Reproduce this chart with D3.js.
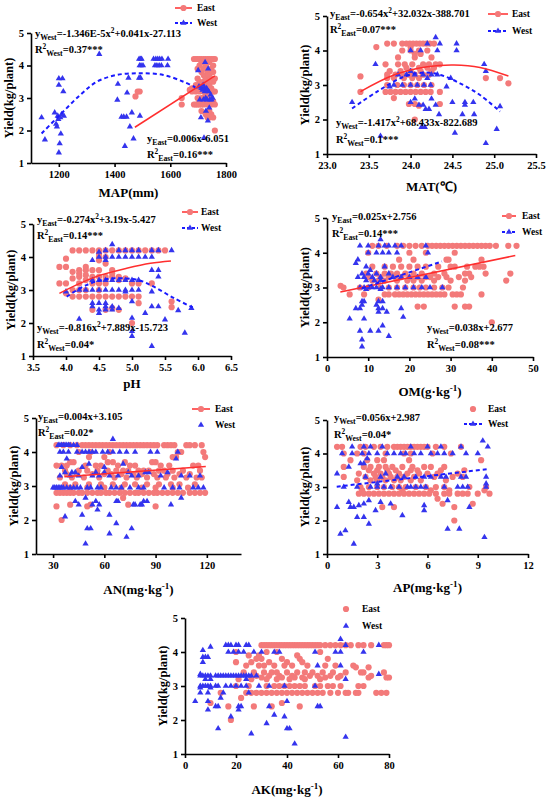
<!DOCTYPE html>
<html><head><meta charset="utf-8">
<script src="https://cdn.jsdelivr.net/npm/d3@7"></script>
<style>
body{margin:0;background:#fff}
.tick text{font-family:'Liberation Serif','Times New Roman',serif;font-weight:bold;font-size:10.5px;fill:#000}
</style>
</head><body>
<svg id="c" width="550" height="801"></svg>
<script>
// ---------------- DATA ----------------
const yTicks = [1,2,3,4,5];
// MAP (mm)
const mapTicks = [1200,1400,1600,1800];
const mapEastCols = [
 [1475,[3.05]],[1483,[3.2]],[1490,[3.2]],[1641,[3.0,2.8]],[1670,[3.25]],[1678,[3.3,3.2]],[1685,[4.2,3.3,2.8]],
 [1692,[4.2,3.4,3.3,3.2,2.8]],[1698,[4.2,3.9,3.6,3.3,3.0,2.8]],[1705,[4.2,4.0,3.5,3.3,3.2,2.9,2.8]],
 [1712,[4.2,4.1,3.8,3.4,3.0,2.8,2.6]],[1720,[4.2,3.9,3.7,3.5,3.2,3.0,2.8]],[1727,[4.2,4.0,3.6,3.4,3.1,2.9,2.5]],
 [1734,[4.2,3.8,3.5,3.3,3.0,2.8,2.4]],[1740,[4.2,4.1,3.7,3.4,3.2,2.9,2.6,2.4]],[1747,[4.2,3.9,3.6,3.3,3.0,2.8,2.5]],
 [1754,[4.2,4.0,3.8,3.5,3.2,2.9,2.4]],[1760,[4.2,3.6,3.2,2.8,2.0]]
];
const mapWest = [
 [1138,2.4],[1150,1.72],[1185,2.55],[1190,2.2],[1193,2.12],[1196,2.45],[1198,2.35],[1200,3.6],[1200,3.4],[1200,1.32],
 [1203,1.6],[1205,2.4],[1207,1.9],[1210,2.5],[1213,3.6],[1216,3.2],[1218,2.45],[1345,4.35],[1410,2.94],[1412,3.43],
 [1425,2.42],[1433,2.42],[1437,1.52],[1443,2.42],[1445,3.16],[1450,3.62],[1455,2.12],[1462,2.55],[1468,1.75],
 [1488,3.62],[1493,3.62],[1491,2.45],[1488,4.2],[1493,4.2],[1497,4.2],[1490,4.0],[1495,4.0],[1502,4.0],
 [1540,4.2],[1548,4.2],[1555,4.2],[1562,4.2],[1570,4.2],[1545,4.0],[1552,4.0],[1560,4.0],[1568,4.0],[1592,4.2],[1590,4.0],
 [1700,3.85],[1703,3.35],[1706,2.95],[1710,2.4],[1712,3.3],[1716,3.25],[1719,2.95],[1721,1.77],[1722,3.3],[1725,4.1],
 [1727,3.0],[1728,2.6],[1730,3.3],[1732,2.95],[1735,2.3],[1736,3.9],[1738,3.2],[1740,2.7],[1742,2.95],[1745,3.1],
 [1748,2.95],[1752,3.0],[1718,3.4],[1724,3.2],[1733,3.25]
];
const mapEastFit = [[1473,2.1],[1760,3.68]];
const mapWestFit = [[1138,1.91],[1204,2.48],[1276,3.09],[1336,3.5],[1408,3.71],[1491,3.76],[1575,3.71],[1647,3.5],[1690,3.33]];

// MAT (°C)
const matTicks = [23.0,23.5,24.0,24.5,25.0,25.5];
const matEastRows = [
 [4.2,[23.72,23.8,23.9,23.95,23.99,24.03,24.07,24.11,24.15,24.19,24.23,24.28]],[4.1,[23.59,24.0]],
 [4.0,[23.9,24.0,24.1,24.2]],[3.9,[24.05,24.12]],[3.8,[23.85,24.05,24.25]],
 [3.6,[23.7,23.85,23.93,24.02,24.15,24.22,24.3,24.35]],[3.5,[23.95,24.1,24.2,24.28]],
 [3.4,[23.75,23.88,24.0,24.12,24.25]],[3.3,[23.72,23.82,23.9,23.98,24.05,24.15,24.22]],[3.25,[23.4]],
 [3.2,[23.72,23.8,23.92,24.02,24.1,24.9,25.07]],[3.05,[25.17]],[3.0,[23.72,23.84,23.92,24.0,24.08,24.16,24.25]],
 [2.8,[23.4,23.7,23.76,23.82,23.88,23.94,24.0,24.06,24.12,24.18,24.24,24.35]],[2.62,[23.8]],
 [2.45,[23.98,24.05,24.35]],[2.4,[24.1]],[2.0,[24.05]]
];
const matWestRows = [
 [4.38,[24.3]],[4.2,[24.2,24.35,24.55]],[4.0,[24.0,24.12,24.32,24.55]],[3.6,[23.58,24.88]],[3.4,[24.0,24.9]],
 [3.3,[23.85,23.95,24.05,24.15,24.25,24.32]],[3.2,[24.2,24.48]],[3.0,[23.8,23.9,24.0,24.08,24.16,24.24]],
 [2.95,[23.75,24.43]],[2.6,[24.05,24.25]],[2.5,[23.3,24.0,24.5,24.65,24.75]],[2.42,[24.1,24.15,24.3,24.65]],
 [2.38,[25.07]],[2.3,[24.18,24.22]],[2.15,[24.34,24.62,24.76]],[1.78,[24.13,24.17]],[1.72,[25.03]],
 [1.61,[24.53]],[1.52,[23.64]],[1.31,[24.9]]
];
const matEastFit = [[23.4,2.81],[23.8,3.29],[24.2,3.53],[24.52,3.58],[24.83,3.51],[25.17,3.26]];
const matWestFit = [[23.3,2.32],[23.6,2.81],[23.92,3.24],[24.16,3.36],[24.36,3.29],[24.59,3.05],[24.83,2.71],[25.07,2.23]];

// pH
const phTicks = [3.5,4.0,4.5,5.0,5.5,6.0,6.5];
const phEastCols = [
 [3.9,[3.7,3.2]],[4.0,[3.95,3.7,3.2,2.9]],[4.1,[4.2,3.55,3.35,3.0,2.8]],[4.2,[4.2,3.6,3.5,3.4,3.2,3.0,2.8]],
 [4.3,[4.2,3.7,3.6,3.45,3.3,3.0,2.8]],[4.4,[4.2,3.6,3.4,3.3,3.2,2.8,2.4]],[4.5,[4.2,4.1,4.0,3.9,3.6,3.4,3.2,3.0,2.8]],
 [4.6,[4.2,4.0,3.8,3.4,3.3,3.2,2.8,2.4]],[4.7,[4.2,3.6,3.5,3.4,2.8,2.45]],[4.8,[4.2,3.4,3.3,2.8,2.4]],
 [4.9,[4.2,3.35,2.8]],[5.0,[4.2,3.2,2.8,2.0]],[5.1,[4.2,3.2,2.8,2.6]],[5.2,[4.2]],[5.3,[4.2,3.2]],
 [5.4,[4.2]],[5.5,[4.2]],[5.6,[2.65,2.48]]
];
const phWestCols = [
 [4.0,[2.95]],[4.2,[2.12,3.0]],[4.3,[3.0]],[4.4,[3.9,3.3,3.0,2.6,2.5]],[4.5,[4.15,4.0,3.3,3.0,2.6,2.4,2.3]],
 [4.6,[4.2,4.0,3.9,3.3,3.0,2.6,2.5,2.4]],[4.7,[4.38,4.0,3.3,3.0,2.5,2.4]],[4.8,[4.2,4.0,3.3,3.0,2.45]],
 [4.9,[4.2,4.0,3.3,3.0,2.95]],[5.0,[4.2,4.0,3.3,3.0,2.65,2.15,1.75,1.6]],[5.1,[4.2,4.0,3.3,3.0]],
 [5.2,[4.0,2.3]],[5.3,[4.2,4.0,3.6,2.95,2.5,1.3]],[5.4,[4.2,3.6,3.4,2.5]],[5.5,[2.1]],[5.6,[4.2]],
 [5.7,[2.38]],[5.8,[1.7]],[5.9,[2.45]]
];
const phEastFit = [[3.9,2.9],[4.21,3.2],[4.52,3.45],[4.92,3.66],[5.28,3.81],[5.59,3.88]];
const phWestFit = [[4.01,2.8],[4.31,3.15],[4.62,3.33],[4.92,3.35],[5.13,3.28],[5.33,3.1],[5.64,2.75],[5.92,2.47]];

// OM (g·kg-1)
const omTicks = [0,10,20,30,40,50];
const omEastRows = [
 [4.2,[11,12.5,14.5,17,18.5,20,21.5,23,24.5,25.5,26.5,27.5,28.5,29.5,30.5,31.5,32.5,33.5,34.5,35.5,36.5,37.5,38.5,39.5,41,44,46]],
 [4.0,[10,20,24,31]],[3.8,[17.5,21,29,29.5,37.5]],
 [3.6,[11,14,16,18,20,22,24,27,30,31,34,36,37,38]],
 [3.4,[9.5,12,14,15.5,17,19,21,23,26,28.5,33.5,34.5,38.5,44.5]],
 [3.3,[10,13,15,16.5,18,20,22,24,25,27,29,32,35]],
 [3.2,[11,12.5,14,17,19.5,21,23,26,30,33.5,43.5]],
 [3.05,[3.3]],
 [3.0,[4,8,10,13,15,17,19,21,22.5,24,26,28,29.5,33]],
 [2.8,[5.5,9,14,15,16.5,17.5,18.5,19.5,20.5,21.5,22.5,23.5,24.5,25.5,26.5,27.5,28.5,30.5,31.5,32.5,37.5]],
 [2.65,[12.5]],[2.45,[22,23.5,31,33.5,34.5]],[2.0,[40]]
];
const omWestRows = [
 [4.38,[13]],[4.2,[8,10,12.5,14,15,16.5,18,24]],[4.0,[10,12,13.5,15,17,24.5]],[3.8,[7.5]],[3.7,[7]],
 [3.6,[9.5,14]],[3.5,[10.5]],[3.4,[8.5,10,12,15]],[3.3,[7.5,9,11,13,16,18,20,22,24]],[3.2,[9.5,11.5,13]],
 [3.0,[8,9,10,11,12,13.5,15,17,19,21,23,25,28]],[2.95,[9.5,13]],[2.6,[8.5,9,12.5,13.5]],[2.5,[8.5,12]],
 [2.4,[7,8,12.5,13.5,18]],[2.3,[12.5,14.5]],[2.15,[18.5]],[2.1,[5.5,9]],[1.9,[13.5]],[1.75,[8,10.5,12.5]],
 [1.6,[15]],[1.5,[8.5]],[1.3,[8.5]]
];
const omEastFit = [[3.24,2.87],[45.7,3.92]];
const omWestFit = [[8.5,2.98],[27.9,3.75]];

// AN (mg·kg-1)
const anTicks = [30,60,90,120];
const anEastRows = [
 [4.2,[32,36,40,44,47,49,51,53,55,57,59,61,63,65,67,69,71,73,75,77,79,81,83,85,87,89,91,95,97,99,101,108,110,113,117]],
 [4.0,[45,52,63,103,105,118]],[3.85,[51,60,100,102,119]],[3.7,[40,42,62,65,72,88,90]],
 [3.6,[32,35,38,49,55,58,68,75,78,93,98,112,115]],
 [3.45,[37,45,50,56,62,67,71,74,80,83,86,92,95,100,106,116]],
 [3.35,[38,44,53,60,64,70,77,82,89,97,104,110]],
 [3.25,[34,41,48,57,66,73,79,85,91,96,101,108,114,117]],
 [3.05,[37,43,51,58,65,72,78,85,92,99,104,113]],[2.95,[40,50,60,70,82,90,100,109]],
 [2.8,[32,34,36,38,40,42,45,47,50,53,56,58,61,63,66,69,72,75,78,80,83,86,89,91,94,97,100,103,106,110,113,116,119]],
 [2.65,[71]],[2.45,[40,52,74]],[2.4,[32,50,90]],[2.0,[35]]
];
const anWestRows = [
 [4.38,[65]],[4.2,[33,34,35,36,37,38,39,40,42,44]],
 [4.0,[34,36,39,44,47,49,51,53,55,59,62,65,69,73,78,87,91,103]],[3.8,[38,102]],[3.65,[51,71]],[3.55,[35,47,60]],
 [3.4,[37,41,43,55,60,74,84,86,97]],[3.3,[34,40,45,53,57,63,68,76,80,93,105,110,116]],
 [2.95,[30,31,32,33,34,35,36,38,40,42,44,46,50,52,56,58,64,67,70,75,80,83,95,100,104,112,115,118]],
 [2.65,[49,105]],[2.55,[43,55,67,68,83,85]],[2.45,[45,53,57,77,78,81,82,99]],[2.3,[56]],[2.15,[47,63]],
 [2.1,[37]],[1.9,[67]],[1.75,[50,52,76]],[1.6,[63]],[1.5,[73]],[1.3,[49]]
];
const anEastFit = [[36.6,3.27],[119.4,3.57]];

// AP (mg·kg-1)
const apTicks = [0,3,6,9,12];
const apEastRows = [
 [4.2,[0.6,0.9,2.0,2.3,2.8,3.2,3.6,4.0,4.2,4.4,4.6,4.8,5.0,5.2,5.4,5.6,5.8,6.0,6.5,7.0,8.0]],
 [4.0,[1.0,1.8,2.2,3.5,4.6,5.0,6.3,7.4]],[3.8,[1.4,2.4,3.0,3.4,4.9,9.2]],
 [3.6,[1.0,2.2,2.6,3.1,3.5,3.9,4.5,5.1,5.8,6.2,7.0]],[3.5,[2.5,3.0,3.6,4.1,5.0,5.4,6.8,8.2]],
 [3.4,[1.9,2.8,3.2,3.7,4.3,4.8,5.5,6.0,6.6,7.8]],[3.3,[1.0,2.3,2.9,3.3,3.8,4.2,4.6,5.2,6.4,7.5,8.1]],
 [3.2,[1.8,2.6,3.0,3.5,4.0,4.4,5.0,5.6,7.1]],[3.0,[2.0,2.5,3.0,3.4,3.9,4.3,4.7,5.3,5.9,6.5,7.0,8.5,9.5]],
 [2.9,[2.1,4.5,6.2,7.3,9.4]],
 [2.8,[1.9,2.2,2.5,2.8,3.1,3.4,3.7,4.0,4.3,4.6,4.9,5.2,5.5,5.8,6.1,6.5,7.0,7.3,7.8,8.1,8.4,9.0,9.7]],
 [2.65,[6.6]],[2.5,[6.9,8.7]],[2.4,[3.3,4.0,7.6]],[2.0,[7.6]]
];
const apWestRows = [
 [4.38,[9.3]],[4.2,[1.5,2.2,2.6,3.3,5.0,6.0,6.8,8.0,9.6]],
 [4.0,[0.9,1.5,2.1,2.5,3.0,3.6,4.0,4.4,4.7,5.2,5.6,6.2,6.6,7.0,7.5,8.3,9.0]],[3.85,[2.4]],[3.7,[2.0,2.2]],
 [3.6,[1.3]],[3.4,[0.6,3.5]],[3.3,[2.3,3.2,4.2,4.6,5.3,5.8,6.2,6.8,7.1,8.0,8.3,9.5]],[3.1,[3.0,9.5]],
 [3.0,[1.0,1.8,2.6,3.0,3.4,3.8,4.3,4.8,5.0,5.3,5.6,5.9,7.0,7.8,8.1,8.4,9.5]],[2.6,[2.5,7.2]],[2.55,[1.3,3.2]],
 [2.5,[2.2,3.8]],[2.45,[1.9,5.8]],[2.4,[0.6,1.4,1.6,8.5]],[2.3,[2.9,5.8]],[2.15,[4.5]],[2.1,[1.8,2.2]],
 [1.9,[2.5]],[1.75,[7.2,7.9]],[1.7,[1.1]],[1.6,[0.8]],[1.5,[9.4]],[1.3,[1.6]]
];
const apWestFit = [[0.58,3.01],[9.53,3.53]];

// AK (mg·kg-1)
const akTicks = [0,20,40,60,80];
const akEastRows = [
 [4.2,[30,31,32,33,34,35,36,37,38,39,40,41,42,43,44,45,46,47,48,49,50,51,52,53,55,57,59,61,63,65,68,70,73,78,79,80]],
 [4.0,[20,32,36,53]],[3.9,[25,29,44]],[3.8,[28,30,38,45,56]],[3.7,[20,26,33,40,46]],
 [3.6,[24,29,31,35,39,42,48,55,59,66]],[3.55,[67,72]],
 [3.4,[23,27,31,34,36,40,44,47,50,54,58,63,69,70,78]],[3.3,[28,33,37,42,49,52,57,61,73]],
 [3.25,[30,38,43,46,55,60,72,79,80]],[3.2,[21,26,32,36,41,47,53]],
 [3.0,[20,25,32,35,37,39,41,43,45,47,51,53,56,58,61,68,70]],
 [2.8,[14,24,26,28,30,32,34,36,38,40,42,44,46,48,50,52,54,57,60,63,64,67,68,75,77,79]],
 [2.65,[22]],[2.5,[10,38]],[2.4,[17,27,34,45]],[2.0,[18]]
];
const akWestRows = [
 [4.38,[61]],[4.2,[16,17,18,20,21,24,25,63,76]],[4.15,[10]],[4.05,[7]],
 [4.0,[17,19,21,23,27,30,35,37,51,59,61,70]],[3.85,[7,8,9]],[3.7,[7]],[3.6,[52,61]],[3.35,[6,76]],
 [3.3,[6,7,8,9,10,12,13,14,15,16,17,18,19,20,21,22,23,24,25,26,28]],[3.2,[8,10,24,63]],
 [3.0,[6,7,8,9,10,12,13,16,18,20,22,24,29,33,39,51]],[2.95,[6,10]],[2.8,[6,9,15,25]],[2.65,[14]],
 [2.55,[4,9,40]],[2.4,[12,13,21,22,33,52,53]],[2.3,[9,21]],[2.15,[35]],[2.1,[18,39]],[1.9,[32]],
 [1.75,[13,40,41]],[1.6,[26]],[1.5,[63]],[1.3,[43]]
];

// ---------------- helpers ----------------
const fromRows = rows => rows.flatMap(([y,xs]) => xs.map(x => [x,y]));
const fromCols = cols => cols.flatMap(([x,ys]) => ys.map(y => [x,y]));

const EAST = "#f37a7a", EASTLINE = "#ff2e2e", WEST = "#3434ee", WESTLINE = "#1a1aff";
const FONT = "'Liberation Serif','Times New Roman',serif";

const panels = [
 {L:31,R:226,T:33,B:163, xd:[1100,1800], xt:mapTicks, fmt:d3.format("d"), xl:"MAP(mm)", xly:197,
  east:fromCols(mapEastCols), west:mapWest, ef:mapEastFit, wf:mapWestFit,
  eqs:[[35,37,"y_{West}=-1.346E-5x^{2}+0.041x-27.113"],[35,53,"R^{2}_{West}=0.37***"],
       [147,142,"y_{East}=0.006x-6.051"],[147,158,"R^{2}_{East}=0.16***"]],
  lg:{x1:175,x2:192,y:8,dy:15,tx:197,eL:true,wL:true}},
 {L:327,R:536,T:16,B:154, xd:[23,25.5], xt:matTicks, fmt:d3.format(".1f"), xl:"MAT(℃)", xly:191,
  east:fromRows(matEastRows), west:fromRows(matWestRows), ef:matEastFit, wf:matWestFit,
  eqs:[[330,17,"y_{East}=-0.654x^{2}+32.032x-388.701"],[330,33,"R^{2}_{East}=0.07***"],
       [336,126,"y_{West}=-1.417x^{2}+68.433x-822.689"],[336,143,"R^{2}_{West}=0.1***"]],
  lg:{x1:488,x2:508,y:14,dy:17,tx:512,eL:true,wL:true}},
 {L:33,R:231,T:224,B:356, xd:[3.5,6.5], xt:phTicks, fmt:d3.format(".1f"), xl:"pH", xly:388,
  east:fromCols(phEastCols), west:fromCols(phWestCols), ef:phEastFit, wf:phWestFit,
  eqs:[[37,223,"y_{East}=-0.274x^{2}+3.19x-5.427"],[37,239,"R^{2}_{East}=0.14***"],
       [37,331,"y_{West}=-0.816x^{2}+7.889x-15.723"],[37,348,"R^{2}_{West}=0.04*"]],
  lg:{x1:182,x2:198,y:212,dy:16,tx:201,eL:true,wL:true}},
 {L:327,R:533,T:218,B:357, xd:[0,50], xt:omTicks, fmt:d3.format("d"), xl:"OM(g·kg^{-1})", xly:396,
  east:fromRows(omEastRows), west:fromRows(omWestRows), ef:omEastFit, wf:omWestFit,
  eqs:[[332,220,"y_{East}=0.025x+2.756"],[332,237,"R^{2}_{East}=0.14***"],
       [427,331,"y_{West}=0.038x+2.677"],[427,348,"R^{2}_{West}=0.08***"]],
  lg:{x1:502,x2:516,y:216,dy:16,tx:522,eL:true,wL:true}},
 {L:36,R:241,T:418,B:554, xd:[20,140], xt:anTicks, fmt:d3.format("d"), xl:"AN(mg·kg^{-1})", xly:594,
  east:fromRows(anEastRows), west:fromRows(anWestRows), ef:anEastFit, wf:null,
  eqs:[[38,420,"y_{East}=0.004x+3.105"],[38,436,"R^{2}_{East}=0.02*"]],
  lg:{x1:192,x2:210,y:409,dy:16,tx:215,eL:true,wL:false}},
 {L:327,R:528,T:420,B:554, xd:[0,12], xt:apTicks, fmt:d3.format("d"), xl:"AP(mg·kg^{-1})", xly:592,
  east:fromRows(apEastRows), west:fromRows(apWestRows), ef:null, wf:apWestFit,
  eqs:[[334,421,"y_{West}=0.056x+2.987"],[334,438,"R^{2}_{West}=0.04*"]],
  lg:{x1:464,x2:482,y:409,dy:15,tx:488,eL:false,wL:true}},
 {L:185,R:389,T:618,B:754, xd:[0,80], xt:akTicks, fmt:d3.format("d"), xl:"AK(mg·kg^{-1})", xly:794,
  east:fromRows(akEastRows), west:fromRows(akWestRows), ef:null, wf:null,
  eqs:[],
  lg:{x1:338,x2:354,y:609,dy:17,tx:362,eL:false,wL:false}}
];

const svg = d3.select("#c");

function rich(sel, str, size){
  const parts = str.split(/(_\{[^}]*\}|\^\{[^}]*\})/).filter(s => s.length);
  let cur = 0;
  parts.forEach(p => {
    let t = p, off = 0, fs = size;
    if (p.startsWith("_{")) { t = p.slice(2,-1); off = size*0.25; fs = size*0.74; }
    else if (p.startsWith("^{")) { t = p.slice(2,-1); off = -size*0.38; fs = size*0.7; }
    sel.append("tspan").attr("dy", off-cur).attr("font-size", fs).text(t);
    cur = off;
  });
}

const tri = d3.symbol().type(d3.symbolTriangle).size(17);

panels.forEach(p => {
  const g = svg.append("g");
  const x = d3.scaleLinear().domain(p.xd).range([p.L,p.R]);
  const y = d3.scaleLinear().domain([1,5]).range([p.B,p.T]);

  g.append("g").selectAll("circle").data(p.east).join("circle")
    .attr("cx", d => x(d[0])).attr("cy", d => y(d[1])).attr("r", 3.1).attr("fill", EAST);
  g.append("g").selectAll("path").data(p.west).join("path")
    .attr("d", tri).attr("transform", d => `translate(${x(d[0])},${y(d[1])})`).attr("fill", WEST);

  const line = d3.line().x(d => x(d[0])).y(d => y(d[1])).curve(d3.curveCatmullRom);
  if (p.ef) g.append("path").datum(p.ef).attr("d", line).attr("fill","none")
      .attr("stroke", EASTLINE).attr("stroke-width", 1.5);
  if (p.wf) g.append("path").datum(p.wf).attr("d", line).attr("fill","none")
      .attr("stroke", WESTLINE).attr("stroke-width", 2).attr("stroke-dasharray","4,3");

  const ax = g.append("g").attr("transform", `translate(0,${p.B})`)
    .call(d3.axisBottom(x).tickValues(p.xt).tickFormat(p.fmt).tickSize(4).tickPadding(4).tickSizeOuter(0));
  const ay = g.append("g").attr("transform", `translate(${p.L},0)`)
    .call(d3.axisLeft(y).tickValues(yTicks).tickFormat(d3.format("d")).tickSize(4).tickPadding(3).tickSizeOuter(0));
  [ax, ay].forEach(a => {
    a.attr("font-family", FONT).attr("font-size", 10.5).attr("font-weight","bold");
    a.selectAll("path,line").attr("stroke","#000").attr("stroke-width",1.6);
  });

  const xt = g.append("text").attr("x",(p.L+p.R)/2).attr("y",p.xly).attr("text-anchor","middle")
    .attr("font-family",FONT).attr("font-weight","bold").attr("font-size",13);
  rich(xt, p.xl, 13);
  g.append("text").attr("transform",`translate(${p.L-22},${(p.T+p.B)/2}) rotate(-90)`)
    .attr("text-anchor","middle").attr("dy","0.35em").attr("font-family",FONT).attr("font-weight","bold")
    .attr("font-size",12.5).text("Yield(kg/plant)");

  p.eqs.forEach(([ex,ey,s]) => {
    const t = g.append("text").attr("x",ex).attr("y",ey).attr("font-family",FONT)
      .attr("font-weight","bold").attr("font-size",10.5);
    rich(t, s, 10.5);
  });

  const L = p.lg, cx = (L.x1+L.x2)/2;
  [["East",L.y,true],["West",L.y+L.dy,false]].forEach(([name,ly,isE]) => {
    const hasLine = isE ? L.eL : L.wL;
    if (hasLine) g.append("line").attr("x1",L.x1).attr("x2",L.x2).attr("y1",ly).attr("y2",ly)
      .attr("stroke", isE ? EASTLINE : WESTLINE).attr("stroke-width", isE?1.5:2)
      .attr("stroke-dasharray", isE ? null : "3,2");
    if (isE) g.append("circle").attr("cx",cx).attr("cy",ly).attr("r",3.1).attr("fill",EAST);
    else g.append("path").attr("d",tri).attr("transform",`translate(${cx},${ly})`).attr("fill",WEST);
    g.append("text").attr("x",L.tx).attr("y",ly).attr("dy","0.35em").attr("font-family",FONT)
      .attr("font-weight","bold").attr("font-size",9.5).text(name);
  });
});
</script>
</body></html>
